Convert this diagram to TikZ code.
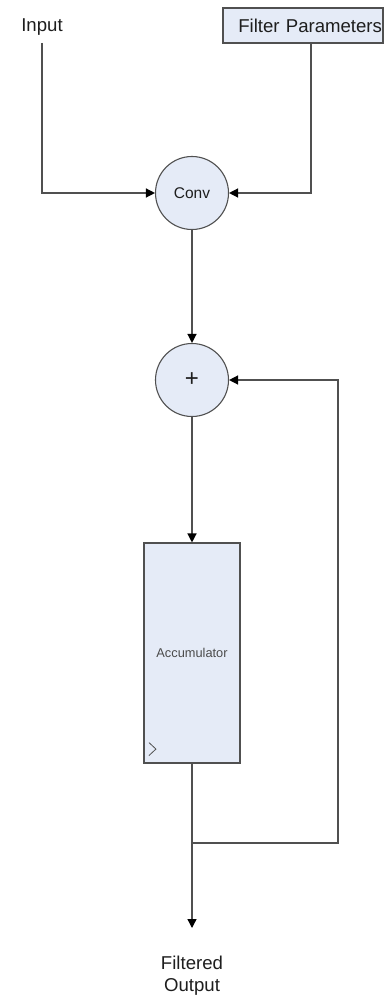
\documentclass[tikz,border=0pt]{standalone}
\usepackage{fontspec}
\setmainfont{Liberation Sans}
\usetikzlibrary{arrows.meta,calc}
\definecolor{linec}{RGB}{80,80,80}
\definecolor{fillc}{RGB}{229,235,247}
\definecolor{txtc}{RGB}{30,30,30}
\tikzset{
  wire/.style={draw=linec, line width=1.3pt},
  arr/.style={wire, -{Triangle[length=9pt,width=9pt,fill=black,color=black]}},
  lbl/.style={text=txtc, font=\fontsize{18.6}{22}\selectfont},
  op/.style={circle, draw=linec, line width=1.1pt, fill=fillc, minimum size=73pt, inner sep=0pt, text=txtc},
  blockbox/.style={rectangle, draw=linec, line width=1.1pt, fill=fillc, inner sep=0pt}
}
\begin{document}
\begin{tikzpicture}[x=1pt,y=-1pt]
\useasboundingbox (0,0) rectangle (384,1000);
\node[lbl, anchor=south, inner xsep=0pt, inner ysep=7pt] (in) at (42,43) {Input};
\node[blockbox, lbl, minimum width=160pt, minimum height=35pt, text width=158pt, align=right] (fp) at (303,25.5) {Filter Parameters};
\node[op, font=\fontsize{15.5}{18}\selectfont] (conv) at (192,193) {Conv};
\node[op, font=\fontsize{24}{28}\selectfont] (plus) at (192,380) {+};
\node[blockbox, minimum width=96pt, minimum height=220pt, text=txtc!80, font=\fontsize{12.8}{15}\selectfont] (acc) at (192,653) {Accumulator};
\draw[linec, line width=0.8pt] ($(acc.south west)+(5.5,-21)$) -- ($(acc.south west)+(12.5,-14.5)$) -- ($(acc.south west)+(5.5,-8)$);
\node[lbl, align=center, anchor=north, inner sep=0pt] (out) at (192,956) {Filtered\\Output};
\coordinate (j) at (192,843);
\coordinate (tip) at (192,928);
\draw[arr] (in.south) |- (conv.west);
\draw[arr] ([xshift=8pt]fp.south) |- (conv.east);
\draw[arr] (conv.south) -- (plus.north);
\draw[arr] (plus.south) -- (acc.north);
\draw[wire] (acc.south) -- (j);
\draw[arr] (j) -- (tip);
\draw[arr] (j) -- ++(146,0) |- (plus.east);
\end{tikzpicture}
\end{document}
